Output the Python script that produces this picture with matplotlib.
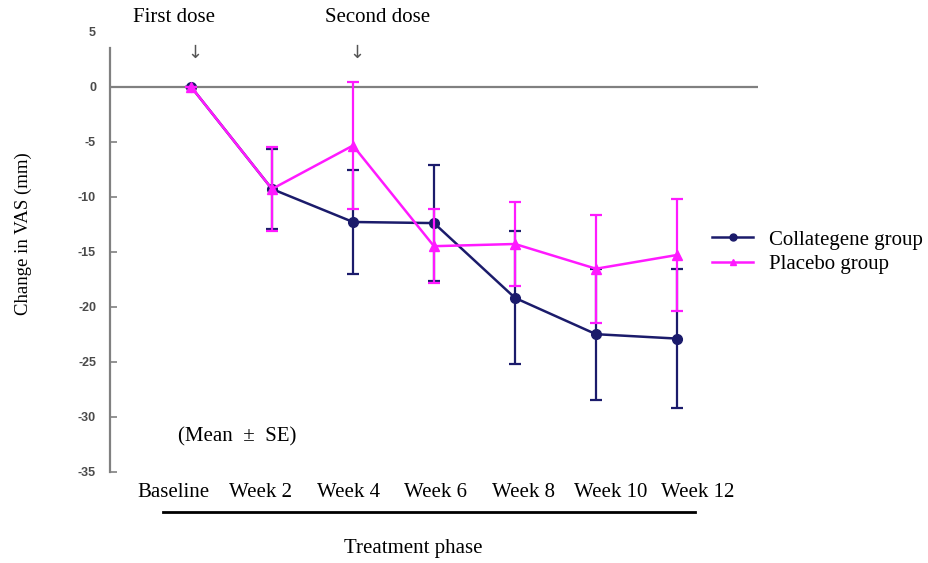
import numpy as np
import matplotlib
matplotlib.use('Agg')
import matplotlib.pyplot as plt
from matplotlib.lines import Line2D

# data
timepoints = ['Baseline', 'Week 2', 'Week 4', 'Week 6', 'Week 8', 'Week 10', 'Week 12']
collategene_mean = [0.0, -9.3, -12.3, -12.4, -19.2, -22.5, -22.9]
collategene_se = [0.0, 3.6, 4.7, 5.3, 6.05, 5.95, 6.35]
placebo_mean = [0.0, -9.3, -5.35, -14.5, -14.3, -16.55, -15.3]
placebo_se = [0.0, 3.85, 5.75, 3.35, 3.85, 4.9, 5.1]
dose_labels = ['First dose', 'Second dose']
dose_index = [0, 2]

serif = 'Liberation Serif'
navy = '#1b1b6b'
magenta = '#ff1aff'
grey = '#808080'

fig = plt.figure(figsize=(9.29, 5.63), dpi=100)
ax = fig.add_axes([0.1184, 0.1622, 0.6975, 0.7815])

x = np.arange(len(timepoints))

ax.axhline(0, color=grey, lw=1.6, zorder=1)

ax.errorbar(x, collategene_mean, yerr=collategene_se, color=navy, lw=1.8,
            marker='o', markersize=7, capsize=4, elinewidth=1.6, capthick=1.6,
            zorder=3)
ax.errorbar(x, placebo_mean, yerr=placebo_se, color=magenta, lw=1.8,
            marker='^', markersize=7, capsize=4, elinewidth=1.6, capthick=1.6,
            zorder=4)

ax.set_xlim(-1, 7)
ax.set_ylim(-35, 5)
ax.set_yticks(np.arange(-35, 6, 5))
ax.set_yticklabels([str(v) for v in range(-35, 6, 5)], fontsize=9,
                   fontweight='bold', color='#4a4a4a', family='Liberation Sans')
ax.tick_params(axis='y', direction='in', length=5, width=1.2, color=grey, pad=10)
ax.yaxis.get_major_ticks()[-1].tick1line.set_visible(False)

# tick labels sit on their own spacing in the reference
label_pos = np.arange(len(timepoints)) * 1.08 - 0.22
ax.set_xticks(label_pos)
ax.set_xticklabels(timepoints, fontsize=15, family=serif)
ax.tick_params(axis='x', length=0, pad=8)

for side in ['top', 'right', 'bottom']:
    ax.spines[side].set_visible(False)
ax.spines['left'].set_color(grey)
ax.spines['left'].set_linewidth(1.6)
ax.spines['left'].set_bounds(-35, 3.5)

ax.set_ylabel('Change in VAS (mm)', fontsize=13.5, family=serif)
ax.yaxis.set_label_coords(-0.12, 0.54)

# dose annotations
for lbl, idx, dx in zip(dose_labels, dose_index, [-0.21, 0.3]):
    ax.text(idx + dx, 6.25, lbl, ha='center', va='center', fontsize=15,
            family=serif, clip_on=False)
    ax.text(idx + 0.05, 3.1, '\u2193', ha='center', va='center', fontsize=13,
            color='#555555', clip_on=False)

ax.text(0.57, -31.8, '(Mean  \u00b1  SE)', ha='center', va='center',
        fontsize=15, family=serif)

# treatment phase bar under the labels
fig.add_artist(Line2D([163 / 929, 695 / 929], [1 - 512 / 563, 1 - 512 / 563],
                      color='black', lw=2))
fig.text(413 / 929, 1 - 548 / 563, 'Treatment phase', ha='center', va='center',
         fontsize=15, family=serif)

handles = [Line2D([], [], color=navy, lw=1.8, marker='o', markersize=5),
           Line2D([], [], color=magenta, lw=1.8, marker='^', markersize=5)]
ax.legend(handles, ['Collategene group', 'Placebo group'],
          loc='center left', bbox_to_anchor=(0.746, 0.552),
          bbox_transform=fig.transFigure, frameon=False,
          prop={'family': serif, 'size': 15}, handlelength=2.0,
          handletextpad=0.75, labelspacing=0.25)

fig.savefig('out.png', dpi=100)
